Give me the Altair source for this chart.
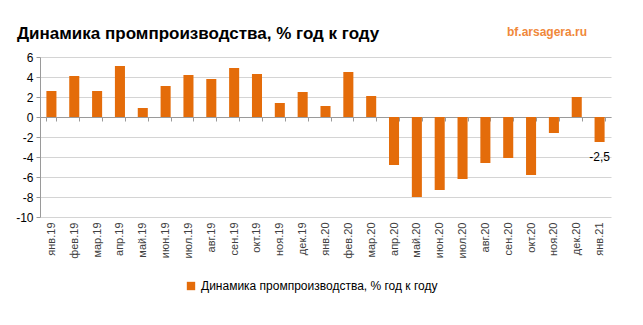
import altair as alt
import pandas as pd

months = ["янв.19", "фев.19", "мар.19", "апр.19", "май.19", "июн.19", "июл.19", "авг.19",
          "сен.19", "окт.19", "ноя.19", "дек.19", "янв.20", "фев.20", "мар.20", "апр.20",
          "май.20", "июн.20", "июл.20", "авг.20", "сен.20", "окт.20", "ноя.20", "дек.20", "янв.21"]
values = [2.6, 4.1, 2.6, 5.1, 0.9, 3.1, 4.2, 3.8, 4.9, 4.3, 1.4, 2.5,
          1.1, 4.5, 2.1, -4.8, -8.0, -7.3, -6.2, -4.6, -4.1, -5.8, -1.6, 2.0, -2.5]
labels = [""] * 24 + ["-2,5"]
series = "Динамика промпроизводства, % год к году"
title_text = "Динамика промпроизводства, % год к году"
logo_text = "bf.arsagera.ru"

df = pd.DataFrame({"month": months, "value": values, "label": labels, "series": series})

ORANGE = "#E46C0A"
FONT = "Liberation Sans"

xscale = alt.Scale(domain=months, paddingInner=0.56, paddingOuter=0.28)
yscale = alt.Scale(domain=[-10, 6], nice=False, zero=False)

xaxis = alt.Axis(title=None, orient="bottom", labelAngle=-90, labelFontSize=11,
                 labelColor="#404040", labelFont=FONT, domain=True, domainColor="#9a9a9a",
                 ticks=True, tickBand="extent", tickSize=4, tickColor="#9a9a9a",
                 offset=-100, labelPadding=101, labelOverlap=False, grid=False)
yaxis = alt.Axis(title=None, values=list(range(-10, 7, 2)), labelExpr="datum.value + ''",
                 labelFontSize=12, labelColor="#000000", labelFont=FONT,
                 domainColor="#9a9a9a", tickColor="#9a9a9a", tickSize=4, grid=True,
                 gridColor="#d4d4d4", labelPadding=3, labelOverlap=False)

base = alt.Chart(df)

bars = base.mark_bar(color=ORANGE).encode(
    x=alt.X("month:N", sort=months, scale=xscale, axis=xaxis),
    y=alt.Y("value:Q", scale=yscale, axis=yaxis),
    color=alt.Color("series:N", scale=alt.Scale(domain=[series], range=[ORANGE]),
                    legend=alt.Legend(title=None, orient="none", legendX=145, legendY=223,
                                      symbolType="square", symbolSize=70, labelFontSize=12,
                                      labelFont=FONT, labelColor="#000000", symbolStrokeWidth=0,
                                      labelLimit=0)),
)

text_layer = base.mark_text(dy=15, fontSize=12, font=FONT, color="#000000").encode(
    x=alt.X("month:N", sort=months, scale=xscale, axis=xaxis),
    y=alt.Y("value:Q", scale=yscale, axis=yaxis),
    text="label:N",
)

title = alt.Chart(pd.DataFrame({"t": [title_text]})).mark_text(
    align="left", baseline="alphabetic", fontSize=17, fontWeight="bold", font=FONT, color="#000000"
).encode(x=alt.value(-23), y=alt.value(-18), text="t:N")

logo = alt.Chart(pd.DataFrame({"t": [logo_text]})).mark_text(
    align="left", baseline="alphabetic", fontSize=12, fontWeight="bold", font=FONT, color="#F0883A"
).encode(x=alt.value(467), y=alt.value(-21), text="t:N")

chart = alt.layer(bars, text_layer, title, logo).properties(
    width=571, height=160,
    autosize=alt.AutoSizeParams(type="none"),
    padding={"left": 40, "top": 57, "right": 32, "bottom": 108},
).configure_view(stroke=None).configure_axis(domainWidth=1)

chart.save("out.html", embed_options={"renderer": "svg", "actions": False})
